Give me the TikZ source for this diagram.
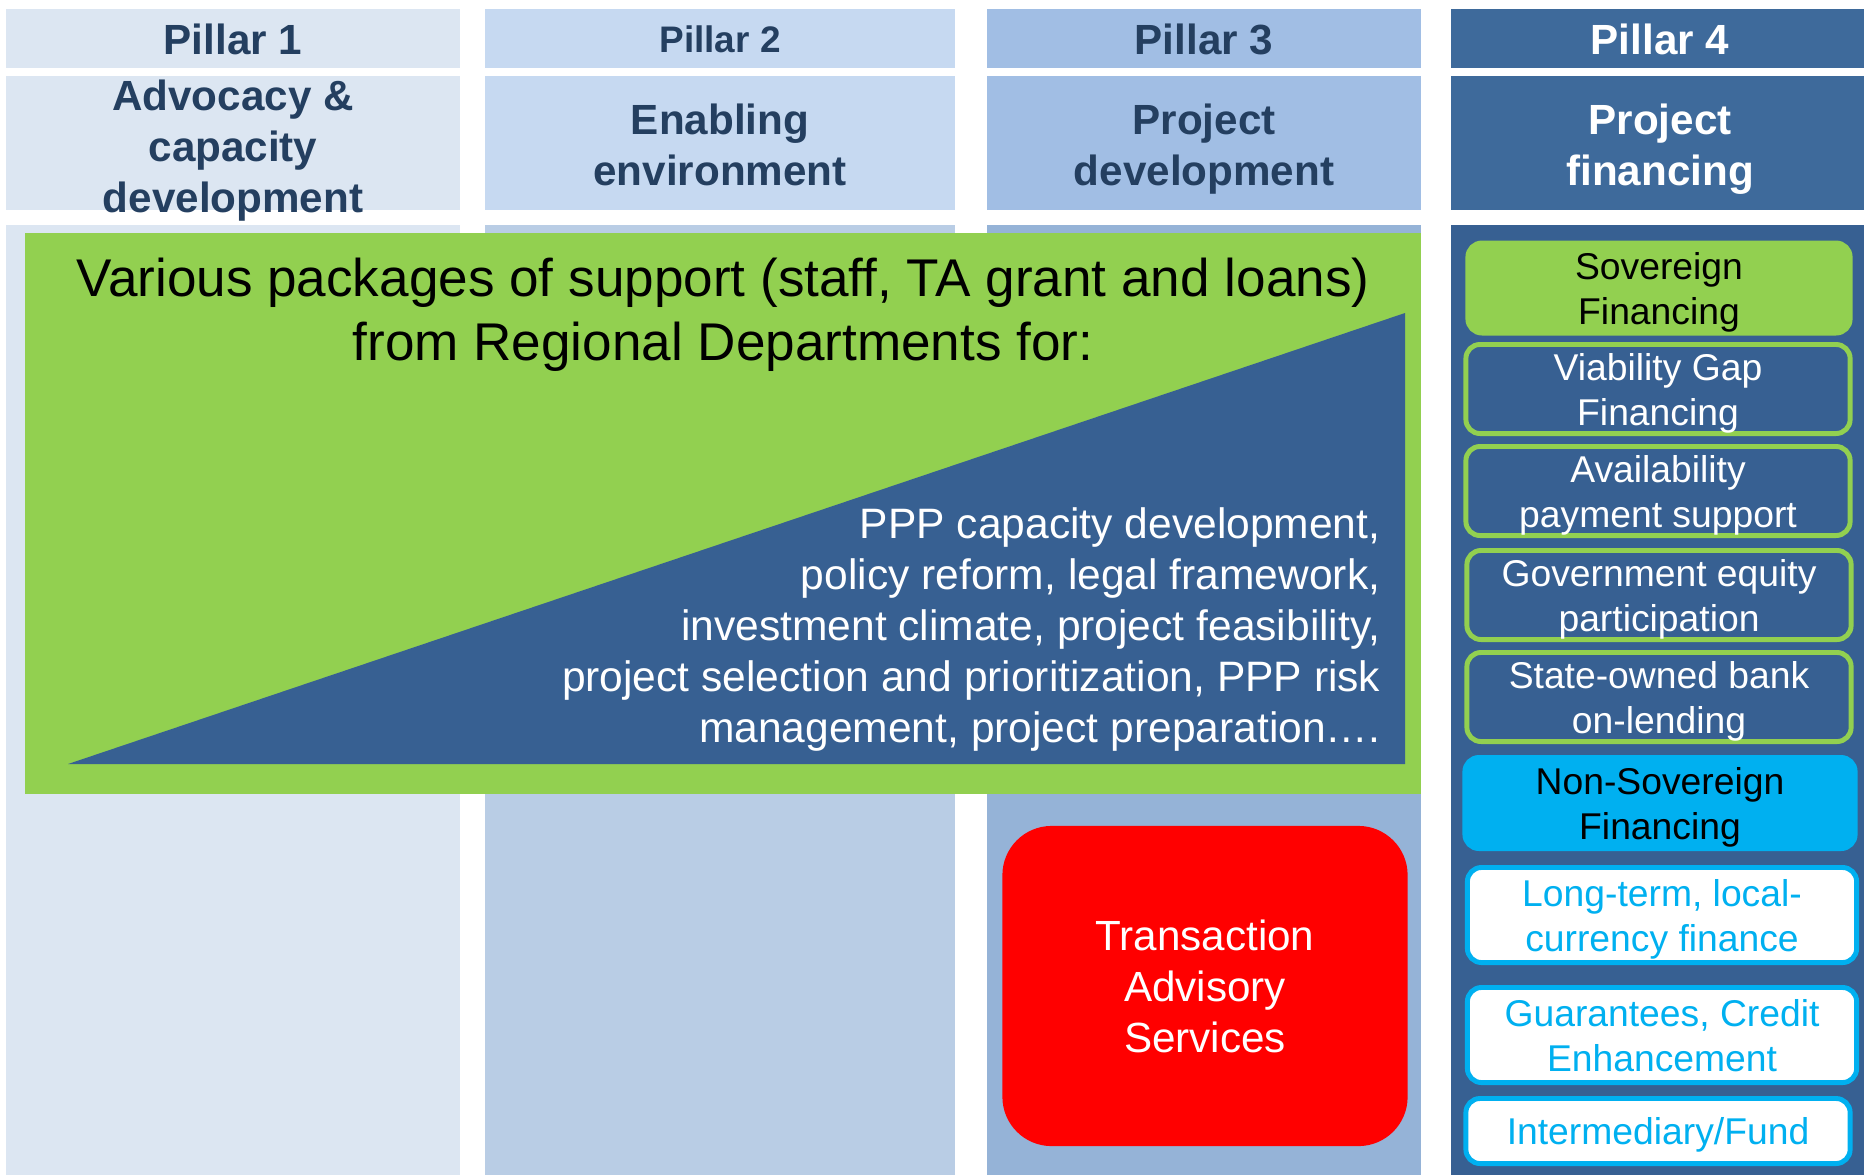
\documentclass[tikz,border=0pt]{standalone}
\usepackage{fontspec}
\setmainfont{Liberation Sans}
\usepackage{xcolor}
\definecolor{paleblue}{HTML}{DCE6F2}
\definecolor{softblue}{HTML}{C6D9F1}
\definecolor{softbody}{HTML}{B9CDE5}
\definecolor{midblue}{HTML}{A1BEE4}
\definecolor{midbody}{HTML}{95B3D7}
\definecolor{deephead}{HTML}{3E6A9B}
\definecolor{deepblue}{HTML}{376092}
\definecolor{navy}{HTML}{243F60}
\definecolor{leaf}{HTML}{92D050}
\definecolor{sky}{HTML}{00B0F0}

\tikzset{
 head/.style={font=\bfseries\fontsize{12}{14.5}\selectfont, text=navy, align=center, inner sep=0pt, text depth=0pt},
 lead/.style={font=\fontsize{15.1}{18.2}\selectfont, align=center, inner sep=0pt, text depth=0pt},
 plain/.style={font=\fontsize{12.1}{14.5}\selectfont, text=white, inner sep=0pt, text depth=0pt},
 finbox/.style={rounded corners=4pt, line width=1.4pt, minimum width=3.84cm, minimum height=0.89cm,
  align=center, inner sep=0pt, text depth=0pt, font=\fontsize{10.6}{12.8}\selectfont},
 sovbox/.style={finbox, fill=deepblue, draw=leaf, text=white},
 nsbox/.style={finbox, fill=white, draw=sky, text=sky, minimum width=3.89cm, minimum height=0.95cm},
 tabox/.style={rounded corners=14pt, fill=red, minimum width=4.05cm, minimum height=3.2cm,
  align=center, inner sep=0pt, text=white, font=\fontsize{12}{14.5}\selectfont}
}

\begin{document}
\begin{tikzpicture}[x=0.01cm, y=-0.01cm]
 \useasboundingbox (0,0) rectangle (1864,1175);
 \fill[white] (0,0) rectangle (1864,1175);
 \fill[paleblue] (6,9) rectangle (460,68);
 \fill[paleblue] (6,76) rectangle (460,210);
 \fill[paleblue] (6,225) rectangle (460,1175);
 \fill[softblue] (485,9) rectangle (955,68);
 \fill[softblue] (485,76) rectangle (955,210);
 \fill[softbody] (485,225) rectangle (955,1175);
 \fill[midblue] (987,9) rectangle (1421,68);
 \fill[midblue] (987,76) rectangle (1421,210);
 \fill[midbody] (987,225) rectangle (1421,1175);
 \fill[deephead] (1451,9) rectangle (1864,68);
 \fill[deephead] (1451,76) rectangle (1864,210);
 \fill[deepblue] (1451,225) rectangle (1864,1175);

 \node[head] (p1) at (233,39) {Pillar 1};
 \node[head, font=\bfseries\fontsize{10.5}{12.6}\selectfont] (p2) at (720,39) {Pillar 2};
 \node[head] (p3) at (1204,39) {Pillar 3};
 \node[head, text=white] (p4) at (1660,39) {Pillar 4};
 \node[head] (advocacy) at (233,146) {Advocacy \&\\capacity\\development};
 \node[head] (enabling) at (720,145) {Enabling\\environment};
 \node[head] (develop) at (1204,145) {Project\\development};
 \node[head, text=white] (finance) at (1660,145) {Project\\financing};

 \fill[leaf] (25,233) rectangle (1421,794);
 \fill[deepblue] (68,764) -- (1405,764) -- (1405,313) -- cycle;
 \node[lead] (support) at (723,309) {Various packages of support (staff, TA grant and loans)\\from Regional Departments for:};
 \node[plain, align=right, anchor=east] (topics) at (1381,625) {PPP capacity development,\\policy reform, legal framework,\\investment climate, project feasibility,\\project selection and prioritization, PPP risk\\management, project preparation\dots.};

 \node[tabox] (tas) at (1205,986) {Transaction\\Advisory\\Services};

 \node[finbox, fill=leaf, draw=leaf, text=black, minimum width=3.82cm, minimum height=0.9cm] (sov) at (1659,288) {Sovereign\\Financing};
 \node[sovbox] (vgf) at (1658,389) {Viability Gap\\Financing};
 \node[sovbox] (avail) at (1658,491) {Availability\\payment support};
 \node[sovbox] (equity) at (1659,595) {Government equity\\participation};
 \node[sovbox] (onlend) at (1659,697) {State-owned bank\\on-lending};
 \node[finbox, fill=sky, draw=sky, text=black, minimum width=3.9cm, minimum height=0.91cm] (nonsov) at (1660,803) {Non-Sovereign\\Financing};
 \node[nsbox] (local) at (1662,915) {Long-term, local-\\currency finance};
 \node[nsbox] (guar) at (1662,1035) {Guarantees, Credit\\Enhancement};
 \node[nsbox, minimum width=3.84cm, minimum height=0.65cm] (fund) at (1658,1131) {Intermediary/Fund};
\end{tikzpicture}
\end{document}
